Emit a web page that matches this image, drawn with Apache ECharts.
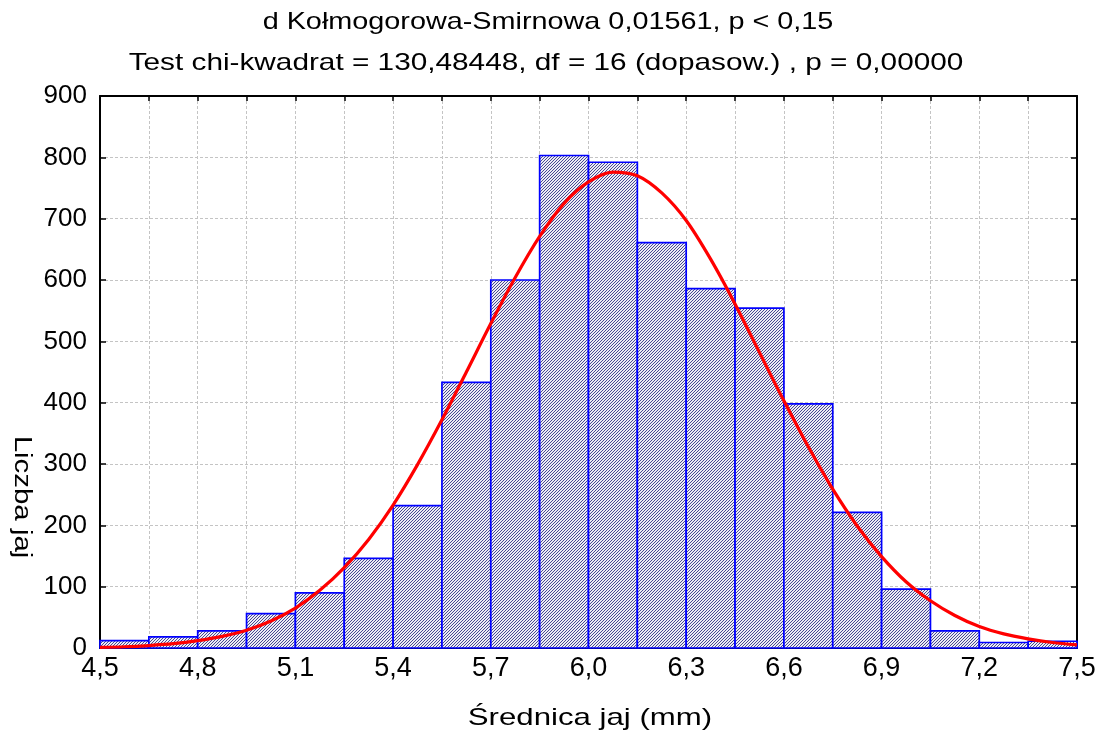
<!DOCTYPE html>
<html>
<head>
<meta charset="utf-8">
<script src="https://cdn.jsdelivr.net/npm/echarts@6/dist/echarts.min.js"></script>
<style>
html,body{margin:0;padding:0;background:#fff;}
#chart{width:1100px;height:738px;}
</style>
</head>
<body>
<div id="chart"></div>
<script>
// ---- data ----
var binStarts = [4.5, 4.65, 4.8, 4.95, 5.1, 5.25, 5.4, 5.55, 5.7, 5.85, 6.0, 6.15, 6.3, 6.45, 6.6, 6.75, 6.9, 7.05, 7.2, 7.35];
var binEnds   = [4.65, 4.8, 4.95, 5.1, 5.25, 5.4, 5.55, 5.7, 5.85, 6.0, 6.15, 6.3, 6.45, 6.6, 6.75, 6.9, 7.05, 7.2, 7.35, 7.5];
var counts    = [12, 18, 28, 56, 90, 146, 232, 433, 600, 803, 792, 661, 586, 554, 398, 221, 96, 28, 9, 11];
var curveX = [4.5, 4.575, 4.65, 4.725, 4.8, 4.875, 4.95, 5.025, 5.1, 5.175, 5.25, 5.325, 5.4, 5.475, 5.55, 5.625, 5.7, 5.775, 5.85, 5.925, 6.0, 6.075, 6.15, 6.225, 6.3, 6.375, 6.45, 6.525, 6.6, 6.675, 6.75, 6.825, 6.9, 6.975, 7.05, 7.125, 7.2, 7.275, 7.35, 7.425, 7.5];
var curveY = [1, 2, 4, 7, 12, 19, 29, 44, 65, 94, 131, 177, 233, 299, 372, 450, 529, 604, 671, 725, 760, 776, 770, 742, 697, 634, 561, 482, 403, 328, 259, 199, 149, 108, 77, 53, 35, 23, 15, 9, 5];
var xTickLabels = ['4,5', '4,8', '5,1', '5,4', '5,7', '6,0', '6,3', '6,6', '6,9', '7,2', '7,5'];
var titleLines = ['d Kołmogorowa-Smirnowa 0,01561, p < 0,15', 'Test chi-kwadrat = 130,48448, df = 16 (dopasow.) , p = 0,00000'];
var xName = 'Średnica jaj (mm)';
var yName = 'Liczba jaj';

// ---- hatch pattern ----
var tile = document.createElement('canvas');
tile.width = 3; tile.height = 3;
var tc = tile.getContext('2d');
tc.fillStyle = '#ececf4';
tc.fillRect(0, 0, 3, 3);
tc.fillStyle = '#484892';
tc.fillRect(0, 2, 1, 1);
tc.fillRect(1, 1, 1, 1);
tc.fillRect(2, 0, 1, 1);
var hatch = { image: tile, repeat: 'repeat' };

var barData = binStarts.map(function (s, i) { return [s, binEnds[i], counts[i]]; });
var curveData = curveX.map(function (x, i) { return [x, curveY[i]]; });

var FONT = "'Liberation Sans', Arial, sans-serif";

function xLabel(v) {
  var k = (v - 4.5) / 0.3;
  var r = Math.round(k);
  if (Math.abs(k - r) < 1e-6 && r >= 0 && r < xTickLabels.length) return xTickLabels[r];
  return '';
}

var chart = echarts.init(document.getElementById('chart'), null, { renderer: 'canvas' });
var gridLine = { show: true, lineStyle: { color: '#c4c4c4', type: [3, 2], width: 1 } };
var option = {
  animation: false,
  backgroundColor: '#ffffff',
  grid: { left: 100, right: 23, top: 96, bottom: 90, containLabel: false },
  xAxis: [{
    type: 'value', min: 4.5, max: 7.5, interval: 0.15,
    axisLine: { show: true, onZero: false, lineStyle: { color: '#000', width: 2 } },
    axisTick: { show: true, inside: true, length: 5, lineStyle: { color: '#000', width: 1.5 } },
    axisLabel: { formatter: xLabel, fontFamily: FONT, fontSize: 27, color: '#000', margin: 7 },
    splitLine: gridLine
  }, {
    type: 'value', min: 4.5, max: 7.5, interval: 0.15, position: 'top',
    axisLine: { show: true, onZero: false, lineStyle: { color: '#000', width: 2 } },
    axisTick: { show: true, inside: true, length: 5, lineStyle: { color: '#000', width: 1.5 } },
    axisLabel: { show: false }, splitLine: { show: false }
  }],
  yAxis: [{
    type: 'value', min: 0, max: 900, interval: 100,
    axisLine: { show: true, onZero: false, lineStyle: { color: '#000', width: 2 } },
    axisTick: { show: true, inside: true, length: 6, lineStyle: { color: '#000', width: 1.5 } },
    axisLabel: { fontFamily: FONT, fontSize: 26, color: '#000', margin: 13 },
    splitLine: gridLine
  }, {
    type: 'value', min: 0, max: 900, interval: 100, position: 'right',
    axisLine: { show: true, onZero: false, lineStyle: { color: '#000', width: 2 } },
    axisTick: { show: true, inside: true, length: 6, lineStyle: { color: '#000', width: 1.5 } },
    axisLabel: { show: false }, splitLine: { show: false }
  }],
  graphic: [{
    type: 'text', x: 548, y: 22, scaleX: 1.2,
    style: { text: titleLines[0], font: "24px 'Liberation Sans', Arial, sans-serif", fill: '#000', align: 'center', verticalAlign: 'middle' }
  }, {
    type: 'text', x: 546, y: 63, scaleX: 1.24,
    style: { text: titleLines[1], font: "24px 'Liberation Sans', Arial, sans-serif", fill: '#000', align: 'center', verticalAlign: 'middle' }
  }, {
    type: 'text', x: 590, y: 718, scaleX: 1.3,
    style: { text: xName, font: "24px 'Liberation Sans', Arial, sans-serif", fill: '#000', align: 'center', verticalAlign: 'middle' }
  }, {
    type: 'text', x: 21, y: 497, rotation: -Math.PI / 2, scaleX: 1.28,
    style: { text: yName, font: "23px 'Liberation Sans', Arial, sans-serif", fill: '#000', align: 'center', verticalAlign: 'middle' }
  }],
  series: [{
    type: 'custom',
    xAxisIndex: 0, yAxisIndex: 0,
    data: barData,
    z: 2,
    renderItem: function (params, api) {
      var p0 = api.coord([api.value(0), api.value(2)]);
      var p1 = api.coord([api.value(1), 0]);
      return {
        type: 'rect',
        shape: { x: p0[0], y: p0[1], width: p1[0] - p0[0], height: p1[1] - p0[1] },
        style: { fill: hatch, stroke: '#0000ff', lineWidth: 1.7 }
      };
    }
  }, {
    type: 'line',
    xAxisIndex: 0, yAxisIndex: 0,
    data: curveData,
    smooth: 0.3,
    symbol: 'none',
    z: 5,
    lineStyle: { color: '#ff0000', width: 3.2 },
    clip: false
  }]
};
chart.setOption(option);
</script>
</body>
</html>
